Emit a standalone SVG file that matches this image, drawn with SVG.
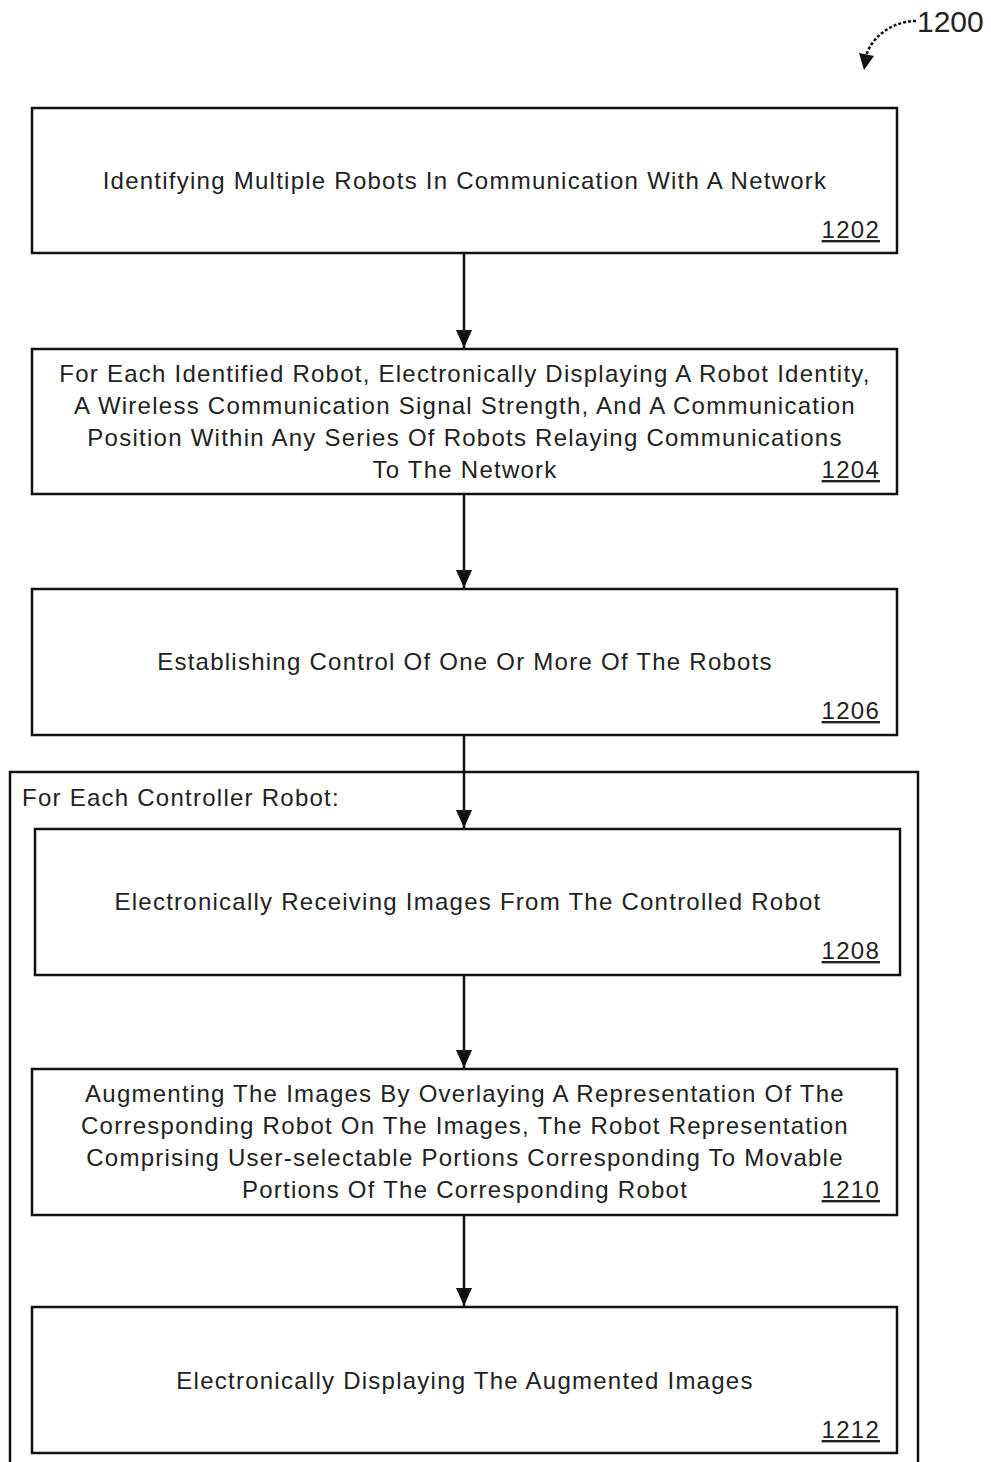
<svg xmlns="http://www.w3.org/2000/svg" width="991" height="1462" viewBox="0 0 991 1462">
<style>
.box{fill:#fff;stroke:#111;stroke-width:2.5}
.t{font-family:"Liberation Sans",Arial,sans-serif;font-size:24px;fill:#222;text-anchor:middle;letter-spacing:1.25px}
.l{font-family:"Liberation Sans",Arial,sans-serif;font-size:24px;fill:#222;letter-spacing:1.25px}
.n{font-family:"Liberation Sans",Arial,sans-serif;font-size:24px;fill:#222;text-anchor:end;text-decoration:underline;letter-spacing:1.25px}
.c{stroke:#111;stroke-width:2.5;fill:none}
</style>
<defs>
<marker id="ah" viewBox="0 0 18 16" refX="18" refY="8" markerWidth="18" markerHeight="16" markerUnits="userSpaceOnUse" orient="auto">
<path d="M0,0 L18,8 L0,16 Z" fill="#111"/>
</marker>
</defs>
<rect width="991" height="1462" fill="#fff"/>
<g id="outer">
<path class="c" d="M10,1470 V772 H918 V1470"/>
<text class="l" x="22" y="806">For Each Controller Robot:</text>
</g>
<g id="label1200">
<text x="917" y="32" style="font-family:'Liberation Sans',Arial,sans-serif;font-size:30px;fill:#222">1200</text>
<path class="c" d="M916,21 C893,21 872,36 866,56" stroke-dasharray="3,2"/>
<path d="M859,53 L874,56 L864,70 Z" fill="#111"/>
</g>
<g id="n1202">
<rect class="box" x="32" y="108" width="865" height="145"/>
<text class="t" x="465" y="189">Identifying Multiple Robots In Communication With A Network</text>
<text class="n" x="880" y="238">1202</text>
</g>
<g id="n1204">
<rect class="box" x="32" y="349" width="865" height="145"/>
<text class="t" x="465" y="382">For Each Identified Robot, Electronically Displaying A Robot Identity,</text>
<text class="t" x="465" y="414">A Wireless Communication Signal Strength, And A Communication</text>
<text class="t" x="465" y="446">Position Within Any Series Of Robots Relaying Communications</text>
<text class="t" x="465" y="478">To The Network</text>
<text class="n" x="880" y="478">1204</text>
</g>
<g id="n1206">
<rect class="box" x="32" y="589" width="865" height="146"/>
<text class="t" x="465" y="670">Establishing Control Of One Or More Of The Robots</text>
<text class="n" x="880" y="719">1206</text>
</g>
<g id="n1208">
<rect class="box" x="35" y="829" width="865" height="146"/>
<text class="t" x="468" y="910">Electronically Receiving Images From The Controlled Robot</text>
<text class="n" x="880" y="959">1208</text>
</g>
<g id="n1210">
<rect class="box" x="32" y="1069" width="865" height="146"/>
<text class="t" x="465" y="1102">Augmenting The Images By Overlaying A Representation Of The</text>
<text class="t" x="465" y="1134">Corresponding Robot On The Images, The Robot Representation</text>
<text class="t" x="465" y="1166">Comprising User-selectable Portions Corresponding To Movable</text>
<text class="t" x="465" y="1198">Portions Of The Corresponding Robot</text>
<text class="n" x="880" y="1198">1210</text>
</g>
<g id="n1212">
<rect class="box" x="32" y="1307" width="865" height="146"/>
<text class="t" x="465" y="1389">Electronically Displaying The Augmented Images</text>
<text class="n" x="880" y="1438">1212</text>
</g>
<g id="connectors">
<line class="c" x1="464" y1="253" x2="464" y2="348" marker-end="url(#ah)"/>
<line class="c" x1="464" y1="494" x2="464" y2="588" marker-end="url(#ah)"/>
<line class="c" x1="464" y1="735" x2="464" y2="828" marker-end="url(#ah)"/>
<line class="c" x1="464" y1="975" x2="464" y2="1068" marker-end="url(#ah)"/>
<line class="c" x1="464" y1="1215" x2="464" y2="1306" marker-end="url(#ah)"/>
</g>
</svg>
